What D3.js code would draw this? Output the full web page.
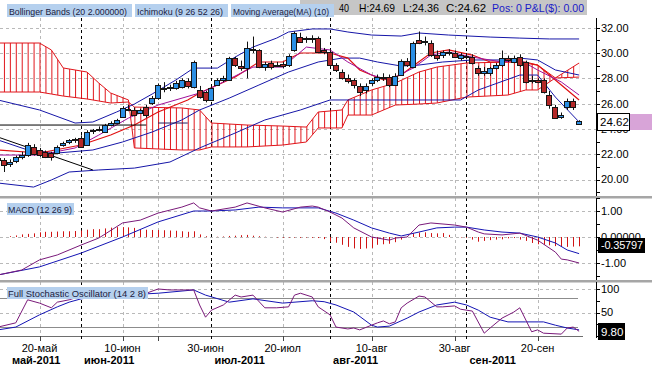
<!DOCTYPE html>
<html><head><meta charset="utf-8">
<script src="https://cdn.jsdelivr.net/npm/d3@7"></script>
<style>body{margin:0;background:#fff}svg{display:block}</style>
</head><body>
<svg id="c" width="652" height="365"></svg>
<script>
// ---------- categories ----------
const dates = ["05-11","05-12","05-13","05-16","05-17","05-18","05-19","05-20","05-23","05-24","05-25","05-26","05-27","05-31",
"06-01","06-02","06-03","06-06","06-07","06-08","06-09","06-10","06-13","06-14","06-15","06-16","06-17","06-20","06-21","06-22","06-23","06-24","06-27","06-28","06-29","06-30",
"07-01","07-05","07-06","07-07","07-08","07-11","07-12","07-13","07-14","07-15","07-18","07-19","07-20","07-21","07-22","07-25","07-26","07-27","07-28","07-29",
"08-01","08-02","08-03","08-04","08-05","08-08","08-09","08-10","08-11","08-12","08-15","08-16","08-17","08-18","08-19","08-22","08-23","08-24","08-25","08-26","08-29","08-30","08-31",
"09-01","09-02","09-06","09-07","09-08","09-09","09-12","09-13","09-14","09-15","09-16","09-19","09-20","09-21","09-22","09-23","09-26","09-27","09-28","09-29"];

// ---------- candles ----------
const openP = [21.7,21.55,21.2,21.5,21.8,21.95,22.6,22.35,22.2,22.1,22.1,22.7,23.0,23.1,
23.3,22.75,23.8,23.9,23.75,24.3,24.5,24.95,25.6,25.5,25.3,25.75,26.05,26.45,27.2,27.2,27.2,27.3,27.8,27.3,27.1,26.9,
26.3,27.5,27.9,27.9,29.6,29.0,28.8,30.3,30.2,28.9,29.2,29.0,29.1,29.05,30.2,31.3,31.1,31.2,31.2,30.2,
30.1,29.05,28.5,28.0,27.9,27.4,27.1,27.6,27.9,28.0,28.1,27.5,28.3,29.4,28.9,31.0,30.85,30.8,29.85,29.85,30.0,30.0,29.6,
29.8,29.7,28.8,28.4,28.4,28.8,29.05,29.6,29.3,29.7,29.3,27.8,27.9,27.9,26.7,25.7,24.95,25.7,26.2,24.40];
const highP = [21.9,21.7,21.6,21.9,22.2,22.9,22.8,22.5,22.3,22.2,22.7,23.0,23.2,23.3,
23.5,23.9,24.0,24.2,24.4,24.6,24.8,25.8,25.9,25.7,25.6,25.9,26.6,27.6,27.7,27.5,27.8,28.0,28.0,29.4,27.4,27.0,
27.3,28.0,28.2,29.7,29.7,29.4,30.9,31.3,30.3,29.3,29.4,29.3,29.3,29.9,31.7,31.6,31.3,31.4,31.3,30.4,
30.2,29.2,28.7,28.3,28.0,27.6,27.6,28.0,28.3,28.4,28.3,28.4,29.5,29.6,30.9,31.7,31.3,31.0,30.2,30.2,30.3,30.2,30.0,
30.0,29.9,29.0,28.9,28.9,29.2,30.2,29.8,29.8,29.9,29.4,28.2,28.0,28.0,27.0,25.9,25.3,26.4,26.4,24.69];
const lowP = [21.4,20.6,21.0,21.3,21.6,21.8,21.9,21.8,21.7,21.5,22.0,22.6,22.8,22.9,
22.5,22.7,23.6,23.8,23.7,24.2,24.4,24.9,25.4,25.0,25.2,24.9,25.9,26.3,26.9,27.0,27.1,27.2,27.2,27.2,26.4,26.1,
26.2,27.4,27.7,27.8,28.9,28.6,28.0,30.0,28.8,28.6,28.7,28.9,28.8,28.9,30.1,30.8,30.8,30.8,30.0,29.9,
28.9,28.5,27.9,27.6,27.2,26.6,26.8,27.4,27.7,27.8,27.3,27.4,28.2,28.9,28.8,30.7,30.6,29.7,29.4,29.6,29.8,29.6,29.4,
29.5,29.1,28.2,28.2,28.2,28.7,28.9,29.3,29.2,28.9,27.6,27.6,27.6,26.8,25.6,24.8,24.8,25.5,25.5,24.36];
const closeP = [21.55,21.15,21.4,21.8,21.95,22.75,22.0,21.95,21.8,21.8,22.6,22.9,23.1,23.2,
22.6,23.75,23.9,24.0,24.3,24.5,24.7,25.65,25.6,25.1,25.5,25.1,26.45,27.47,27.25,27.35,27.6,27.9,27.4,29.3,26.5,26.3,
27.2,27.9,28.0,29.6,29.05,28.8,30.4,30.35,28.9,29.1,28.9,29.05,29.0,29.8,31.6,30.9,31.2,31.1,30.1,30.05,
29.05,28.66,28.0,27.8,27.5,26.9,27.4,27.9,28.1,28.1,27.5,28.2,29.4,29.05,30.8,30.8,30.95,29.85,29.6,30.1,30.1,29.7,29.85,
29.7,29.2,28.4,28.6,28.8,29.05,29.6,29.45,29.6,29.05,27.7,27.9,27.7,26.9,25.9,24.9,25.1,26.2,25.7,24.62];

// ---------- main panel lines [date, price] ----------
const bbUpper = [["05-11",26.29],["05-20",25.50],["05-31",24.47],["06-03",24.55],["06-09",25.34],["06-14",25.97],["06-17",26.76],["06-23",27.87],["06-28",28.81],["07-05",28.81],["07-08",29.68],["07-13",30.47],["07-19",31.18],["07-21",31.66],["07-27",31.90],["08-01",31.90],["08-04",31.66],["08-10",31.42],["08-17",31.34],["08-22",31.58],["08-29",31.42],["09-08",31.26],["09-15",31.18],["09-22",31.11],["09-29",31.11]];
const bbMiddle = [["05-11",23.13],["05-18",22.34],["05-25",22.10],["06-03",22.34],["06-10",22.97],["06-17",23.76],["06-24",24.71],["06-29",25.50],["07-07",26.44],["07-14",27.47],["07-21",28.50],["07-28",29.29],["08-03",29.60],["08-08",29.60],["08-11",29.29],["08-17",28.97],["08-22",29.05],["08-26",29.29],["09-02",29.45],["09-12",29.45],["09-15",29.60],["09-20",29.45],["09-23",28.66],["09-29",28.26]];
const bbLower = [["05-11",19.73],["05-19",19.41],["05-24",19.97],["05-27",20.60],["06-06",20.76],["06-14",20.91],["06-22",21.39],["06-29",22.50],["07-08",23.68],["07-15",24.71],["07-25",25.50],["08-01",26.29],["08-10",26.29],["08-31",26.29],["09-06",27.08],["09-15",28.26],["09-20",28.26],["09-23",26.52],["09-29",24.55]];
const tenkan = [["05-11",22.34],["05-20",22.10],["06-01",22.73],["06-08",23.52],["06-14",24.31],["06-20",25.34],["06-27",26.29],["06-29",26.84],["07-08",28.10],["07-14",29.29],["07-20",29.29],["07-25",30.00],["08-01",30.00],["08-04",29.60],["08-08",28.66],["08-12",27.87],["08-17",28.26],["08-19",28.97],["08-24",30.00],["08-29",30.24],["09-02",29.84],["09-08",29.29],["09-15",29.29],["09-20",29.05],["09-26",27.47],["09-29",26.29]];
const ma10 = [["05-11",21.94],["05-20",21.94],["05-31",22.50],["06-06",23.52],["06-13",24.86],["06-20",25.89],["06-29",26.84],["07-01",27.24],["07-13",28.89],["07-20",28.89],["07-26",30.47],["08-01",30.24],["08-04",29.29],["08-10",28.26],["08-15",27.87],["08-19",28.81],["08-24",29.84],["08-29",30.08],["09-02",29.68],["09-12",29.29],["09-15",29.45],["09-20",28.66],["09-26",27.71],["09-29",26.68]];
const cloudDates = ["05-11","05-20","05-24","05-26","06-02","06-06","06-08","06-13","06-14","06-24","06-29","07-01","07-12","07-20","07-26","07-28","08-03","08-04","08-10","08-16","08-22","08-25","09-01","09-13","09-16","09-20","09-23","09-29"];
const senkouA = [30.79,30.79,30.24,28.82,28.50,27.63,26.84,26.29,22.50,22.34,22.34,22.58,22.58,22.73,22.97,24.08,24.08,25.10,25.10,25.89,25.97,26.05,26.52,26.68,27.08,27.08,28.03,29.21];
const senkouB = [26.92,26.92,26.76,26.60,26.37,26.21,26.05,26.13,25.73,25.66,25.50,24.47,24.31,24.23,24.15,25.34,25.50,26.29,27.08,27.63,28.50,28.89,29.21,29.29,29.29,29.05,28.03,28.10];
const trendLines = [
  [["05-11",23.36],["06-03",20.76]],
  [["05-11",24.31],["06-16",24.31]],
  [["06-20",24.47],["06-27",24.47]]
];

// ---------- MACD ----------
const macdLine = [["05-11",-1.46],["05-17",-1.27],["05-20",-0.88],["05-25",-0.69],["06-01",-0.31],["06-06",-0.04],["06-10",0.54],["06-15",0.65],["06-20",0.92],["06-24",1.15],["06-28",1.31],["06-29",1.12],["07-01",1.0],["07-08",1.15],["07-12",1.31],["07-15",1.12],["07-20",0.96],["07-25",1.15],["07-27",1.19],["07-28",1.15],["08-01",0.96],["08-03",0.73],["08-05",0.35],["08-10",0.0],["08-15",-0.12],["08-16",-0.04],["08-18",0.0],["08-22",0.46],["08-24",0.54],["08-30",0.46],["09-01",0.38],["09-06",0.19],["09-07",0.12],["09-12",0.08],["09-15",0.15],["09-20",-0.12],["09-23",-0.58],["09-26",-0.85],["09-27",-0.88],["09-29",-1.0]];
const macdSignal = [["05-11",-1.46],["05-20",-1.15],["06-01",-0.62],["06-10",0.0],["06-20",0.58],["06-28",1.0],["07-01",1.0],["07-08",1.04],["07-14",1.15],["07-20",1.12],["07-28",1.12],["08-02",0.92],["08-05",0.65],["08-10",0.35],["08-15",0.15],["08-17",0.04],["08-22",0.19],["08-25",0.35],["08-30",0.38],["09-01",0.38],["09-07",0.27],["09-12",0.19],["09-15",0.15],["09-20",0.0],["09-23",-0.23],["09-27",-0.5],["09-29",-0.64]];
const macdHist = [0,0,0.03,0.06,0.1,0.12,0.14,0.18,0.2,0.2,0.21,0.22,0.22,0.23,
0.25,0.28,0.3,0.3,0.33,0.36,0.38,0.38,0.37,0.35,0.3,0.28,0.27,0.27,0.26,0.25,0.24,0.22,0.2,0.22,0.1,0.03,
0.0,0.01,0.02,0.04,0.05,0.07,0.08,0.05,0.03,0.01,0.0,-0.02,-0.03,-0.02,-0.02,-0.03,-0.02,-0.03,-0.04,-0.08,
-0.18,-0.22,-0.3,-0.38,-0.44,-0.46,-0.44,-0.42,-0.3,-0.28,-0.26,-0.2,-0.1,0.04,0.14,0.17,0.18,0.15,0.14,0.15,0.08,0.0,-0.02,
-0.03,-0.1,-0.18,-0.15,-0.12,-0.1,-0.09,-0.05,-0.04,-0.1,-0.15,-0.23,-0.28,-0.3,-0.32,-0.35,-0.38,-0.38,-0.37,-0.358];

// ---------- Stochastic ----------
const stochK = [["05-11",19],["05-16",28],["05-18",77],["05-20",70],["05-24",60],["05-25",72],["05-27",77],["06-01",85],["06-03",80],["06-07",90],["06-09",95],["06-13",92],["06-16",91],["06-20",100],["06-22",98],["06-28",98],["06-29",66],["06-30",40],["07-01",55],["07-06",66],["07-08",87],["07-11",83],["07-13",87],["07-15",60],["07-19",60],["07-21",62],["07-22",87],["07-25",91],["07-27",83],["07-28",62],["08-01",45],["08-02",19],["08-04",15],["08-05",17],["08-08",13],["08-10",23],["08-11",28],["08-12",32],["08-15",26],["08-16",30],["08-17",60],["08-18",70],["08-22",85],["08-23",83],["08-25",62],["08-26",62],["08-30",64],["08-31",57],["09-02",53],["09-07",6],["09-08",17],["09-12",38],["09-14",51],["09-15",60],["09-19",9],["09-20",13],["09-21",6],["09-26",4],["09-27",17],["09-28",19],["09-29",10]];
const stochD = [["05-11",13],["05-16",19],["05-20",45],["05-25",62],["05-27",72],["06-01",79],["06-06",84],["06-10",87],["06-20",91],["06-28",98],["06-30",87],["07-07",72],["07-13",79],["07-20",70],["07-27",75],["07-29",73],["08-02",66],["08-05",51],["08-10",23],["08-11",19],["08-15",21],["08-18",38],["08-22",51],["08-25",66],["08-30",72],["09-01",66],["09-06",55],["09-08",40],["09-13",30],["09-16",30],["09-21",30],["09-23",23],["09-27",17],["09-29",13]];

// ---------- axes / labels ----------
const priceTicks = [20,22,24,26,28,30,32];
const macdTicks = [1,0,-1];
const macdTickLabels = ["1.00","0.00000","-1.00"];
const stochTicks = [100,50];
const tickDates = ["05-20","06-10","06-30","07-20","08-10","08-30","09-20"];
const tickLabels = ["20-май","10-июн","30-июн","20-июл","10-авг","30-авг","20-сен"];
const gridDates = ["05-20","06-10","06-20","07-20","08-10","08-30","09-20"];
const monthStarts = ["05-11","06-01","07-01","08-01","09-01"];
const monthLabels = ["май-2011","июн-2011","июл-2011","авг-2011","сен-2011"];
const lastPrice = "24.62", lastMacd = "-0.35797", lastStoch = "9.80";

// ---------- drawing ----------
const F = "'Liberation Sans', Arial, sans-serif";
const svg = d3.select("#c");
svg.append("rect").attr("width",652).attr("height",365).attr("fill","#fff");
const defs = svg.append("defs");
function clip(id,x,y0,w,y1){defs.append("clipPath").attr("id",id).append("rect").attr("x",x).attr("y",y0).attr("width",w).attr("height",y1-y0);}
clip("cm",0,0,596,196); clip("cd",0,198,596,280); clip("cs",0,282,596,337);
clip("c24",590,131,62,140); clip("c00",590,226,62,238);

const P = new Map(dates.map((d,i)=>[d,i]));
const xs = d3.scaleLinear().domain([0,98]).range([-2,579.1]);
const X = d => xs(P.get(d));
const yP = d3.scaleLinear().domain([20,32]).range([179.6,27.7]);
const yM = d3.scaleLinear().domain([-1,1]).range([263,211]);
const yS = d3.scaleLinear().domain([0,100]).range([336,289]);

const GRID = "#b9b9b9";
function hgrid(ticks, y){
  svg.append("g").selectAll("line").data(ticks).join("line")
   .attr("x1",0).attr("x2",596).attr("y1",d=>Math.round(y(d))+0.5).attr("y2",d=>Math.round(y(d))+0.5)
   .attr("stroke",GRID).attr("stroke-dasharray","3,3");
}
hgrid(priceTicks,yP); hgrid([1,0,-1],yM); hgrid([100,50],yS);
[[18,196],[198,280],[282,336]].forEach(([a,b])=>{
  svg.append("g").selectAll("line").data(gridDates).join("line")
   .attr("x1",d=>Math.round(X(d))+0.5).attr("x2",d=>Math.round(X(d))+0.5).attr("y1",a).attr("y2",b)
   .attr("stroke",GRID).attr("stroke-dasharray","3,3");
});
svg.append("g").selectAll("line").data([80,20]).join("line")
  .attr("x1",0).attr("x2",578).attr("y1",d=>Math.round(yS(d))+0.5).attr("y2",d=>Math.round(yS(d))+0.5)
  .attr("stroke","#8c8c8c");
svg.append("line").attr("x1",0).attr("x2",583).attr("y1",336.5).attr("y2",336.5).attr("stroke","#6e6e6e");

svg.append("g").selectAll("line").data(monthStarts.slice(1)).join("line")
  .attr("x1",d=>Math.round(X(d))+0.5).attr("x2",d=>Math.round(X(d))+0.5).attr("y1",18).attr("y2",340)
  .attr("stroke","#000").attr("stroke-dasharray","3,3");

// ---- main panel
const gm = svg.append("g").attr("clip-path","url(#cm)");
const pat = defs.append("pattern").attr("id","hatch").attr("patternUnits","userSpaceOnUse")
  .attr("x",Math.round(xs(0))).attr("y",0).attr("width",xs(1)-xs(0)).attr("height",4);
pat.append("rect").attr("x",0).attr("y",0).attr("width",1).attr("height",4).attr("fill","#e0141a");
const cloud = cloudDates.map((d,i)=>({d,a:senkouA[i],b:senkouB[i]}));
gm.append("path").datum(cloud).attr("fill","url(#hatch)")
  .attr("d",d3.area().x(c=>X(c.d)).y0(c=>yP(c.a)).y1(c=>yP(c.b)));
const lineP = d3.line().x(d=>X(d[0])).y(d=>yP(d[1]));
gm.append("path").datum(cloud.map(c=>[c.d,c.a])).attr("d",lineP).attr("fill","none").attr("stroke","#e0141a");
gm.append("path").datum(cloud.map(c=>[c.d,c.b])).attr("d",lineP).attr("fill","none").attr("stroke","#e0141a");
[bbUpper,bbMiddle,bbLower].forEach(s=>gm.append("path").datum(s).attr("d",lineP).attr("fill","none").attr("stroke","#1616a8"));
gm.append("path").datum(tenkan).attr("d",lineP).attr("fill","none").attr("stroke","#e01010").attr("stroke-width",1.2);
gm.append("path").datum(ma10).attr("d",lineP).attr("fill","none").attr("stroke","#a0109a");
trendLines.forEach((s,i)=>gm.append("path").datum(s).attr("d",lineP).attr("fill","none").attr("stroke",i==2?"#202060":"#000"));

dates.forEach((d,i)=>{
  const x0 = Math.round(xs(i));
  const o=openP[i], c=closeP[i];
  gm.append("line").attr("x1",x0+0.5).attr("x2",x0+0.5).attr("y1",yP(highP[i])).attr("y2",yP(lowP[i])).attr("stroke","#111");
  const top = Math.round(yP(Math.max(o,c))), bot = Math.round(yP(Math.min(o,c)));
  gm.append("rect").attr("x",x0-2.5).attr("y",top+0.5).attr("width",5).attr("height",Math.max(1,bot-top))
    .attr("fill", c>=o ? "#2b8fe4" : "#b42828").attr("stroke","#151515");
});

// ---- MACD
const gd = svg.append("g").attr("clip-path","url(#cd)");
gd.selectAll("line").data(macdHist).join("line")
  .attr("x1",(v,i)=>Math.round(xs(i))+0.5).attr("x2",(v,i)=>Math.round(xs(i))+0.5)
  .attr("y1",yM(0)).attr("y2",v=>yM(v)).attr("stroke","#d01414");
const lineM = d3.line().x(d=>X(d[0])).y(d=>yM(d[1]));
gd.append("path").datum(macdSignal).attr("d",lineM).attr("fill","none").attr("stroke","#1414b4");
gd.append("path").datum(macdLine).attr("d",lineM).attr("fill","none").attr("stroke","#7a1a7a");

// ---- Stochastic
const gs = svg.append("g").attr("clip-path","url(#cs)");
const lineS = d3.line().x(d=>X(d[0])).y(d=>yS(d[1]));
gs.append("path").datum(stochD).attr("d",lineS).attr("fill","none").attr("stroke","#1414b4");
gs.append("path").datum(stochK).attr("d",lineS).attr("fill","none").attr("stroke","#7a1a7a");

[197,281].forEach(y=>svg.append("rect").attr("x",0).attr("y",y-1).attr("width",652).attr("height",2.5).attr("fill","#a6a6a6"));

function raxis(y0,y1,ticks,yScale){
  svg.append("line").attr("x1",596.5).attr("x2",596.5).attr("y1",y0).attr("y2",y1).attr("stroke","#000");
  svg.append("g").selectAll("line").data(ticks).join("line")
    .attr("x1",596).attr("x2",600).attr("y1",d=>Math.round(yScale(d))+0.5).attr("y2",d=>Math.round(yScale(d))+0.5).attr("stroke","#000");
}
raxis(18,196,d3.range(19,33,1),yP);
raxis(198,280,[-1.5,-1,-0.5,0,0.5,1,1.5],yM);
raxis(282,338,[100,75,50,25,0],yS);
const axT = (x,y,t)=>svg.append("text").attr("x",x).attr("y",y).attr("dy","0.35em").attr("font-family",F).attr("font-size",11).attr("fill","#000").text(t);
priceTicks.forEach(v=>{const t=axT(601,yP(v),v.toFixed(2)); if(v===24) t.attr("clip-path","url(#c24)");});
macdTicks.forEach((v,i)=>{const t=axT(601,yM(v),macdTickLabels[i]); if(v===0) t.attr("clip-path","url(#c00)");});
stochTicks.forEach(v=>axT(601,yS(v),String(v)));

svg.append("rect").attr("x",630).attr("y",114).attr("width",22).attr("height",16).attr("fill","#d8a4d8");
svg.append("rect").attr("x",597.5).attr("y",113.5).attr("width",32).attr("height",17).attr("fill","#fff").attr("stroke","#000");
axT(600,122,lastPrice).attr("font-size",11.5);
svg.append("rect").attr("x",598).attr("y",238).attr("width",47).attr("height",15).attr("fill","#000");
axT(601,245.5,lastMacd).attr("fill","#fff").attr("textLength",42);
svg.append("rect").attr("x",598).attr("y",323).attr("width",27).attr("height",17).attr("fill","#000");
axT(601,331.5,lastStoch).attr("fill","#fff").attr("font-size",11.5);

svg.append("g").selectAll("line").data(gridDates).join("line")
  .attr("x1",d=>Math.round(X(d))+0.5).attr("x2",d=>Math.round(X(d))+0.5).attr("y1",336).attr("y2",341).attr("stroke","#444");
tickDates.forEach((d,i)=>svg.append("text").attr("x",X(d)).attr("y",352).attr("text-anchor","middle")
  .attr("font-family",F).attr("font-size",11).text(tickLabels[i]));
monthLabels.forEach((t,i)=>svg.append("text").attr("x",i==0?12:X(monthStarts[i])+3).attr("y",364)
  .attr("font-family",F).attr("font-size",11).attr("font-weight","bold").text(t));

const LB = "#b5d0ee";
svg.append("rect").attr("x",300).attr("y",0).attr("width",287).attr("height",15).attr("fill","#c6c6c6");
const hT = (x,y,t,w,col,fs)=>svg.append("text").attr("x",x).attr("y",y).attr("font-family",F).attr("font-size",fs||10.5)
  .attr("fill",col||"#000").attr("textLength",w).attr("lengthAdjust","spacingAndGlyphs").text(t);
hT(339,12,"40",10); hT(359,12,"H:24.69",36); hT(403,12,"L:24.36",36); hT(446,12,"C:24.62",40);
hT(492,12,"Pos: 0 P&L($): 0.00",92,"#1a1ac8");
[[7,125,"Bollinger Bands (20 2.000000)"],[135,93,"Ichimoku (9 26 52 26)"],[231,103,"Moving Average(MA) (10)"]].forEach(([x,w,t])=>{
  svg.append("rect").attr("x",x).attr("y",4).attr("width",w).attr("height",13).attr("fill",LB);
  hT(x+2,14.5,t,w-7,"#202040",8.8);
});
svg.append("rect").attr("x",7).attr("y",203).attr("width",67).attr("height",12).attr("fill",LB);
hT(8,213,"MACD (12 26 9)",64,"#202040",9.5);
svg.append("rect").attr("x",7).attr("y",287).attr("width",141).attr("height",12).attr("fill",LB);
hT(8,297,"Full Stochastic Oscillator (14 2 8)",138,"#202040",9.5);
</script>
</body></html>
